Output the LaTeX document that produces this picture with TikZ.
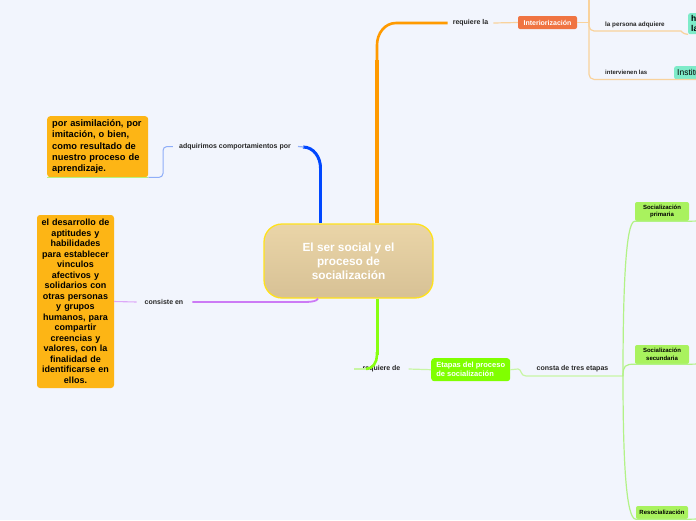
\documentclass[tikz,border=0pt]{standalone}
\usepackage{fontspec}
\setmainfont{Liberation Sans}
\definecolor{bg}{HTML}{F2F5FD}
\definecolor{orgline}{HTML}{FF9A00}
\definecolor{orglight}{HTML}{F9D29C}
\definecolor{bluel}{HTML}{0047FF}
\definecolor{bluelight}{HTML}{8FAEF8}
\definecolor{purp}{HTML}{CC7AF5}
\definecolor{purplight}{HTML}{DDA8F8}
\definecolor{grn}{HTML}{88FF11}
\definecolor{grnlight}{HTML}{C8F5A4}
\definecolor{grnmid}{HTML}{B2F286}
\definecolor{boxor}{HTML}{FDB515}
\definecolor{interior}{HTML}{F07442}
\definecolor{tealbox}{HTML}{7EEBC9}
\definecolor{etapcol}{HTML}{80FF00}
\definecolor{soccol}{HTML}{A9F25E}
\definecolor{centtop}{HTML}{EAD5A8}
\definecolor{centbot}{HTML}{D7C195}
\definecolor{centborder}{HTML}{FFE21C}
\definecolor{undergrn}{HTML}{B8F07E}
\tikzset{
  lbl/.style={font=\fontsize{7}{8}\selectfont\bfseries, text=black!85, inner sep=1pt},
  smalllbl/.style={font=\fontsize{6.3}{7}\selectfont\bfseries, text=black!85, inner sep=1pt},
  orbox/.style={fill=boxor, rounded corners=3pt, text=black, inner ysep=2pt,
     font=\fontsize{9.3}{11.3}\selectfont\bfseries},
  socbox/.style={fill=soccol, rounded corners=2pt, text=black, align=center, inner sep=1pt,
     font=\fontsize{6}{7.4}\selectfont\bfseries, minimum width=54pt},
  centralbox/.style={draw=centborder, line width=1.3pt, top color=centtop, bottom color=centbot,
     rounded corners=18pt, minimum width=169pt, minimum height=74pt, text=white, align=center,
     font=\fontsize{11.8}{14}\selectfont\bfseries},
}
\begin{document}
\begin{tikzpicture}[x=1pt,y=-1pt]
\fill[bg] (0,0) rectangle (696,520);
\useasboundingbox (0,0) rectangle (696,520);
\clip (0,0) rectangle (696,520);

% ---------- nodes ----------
\node[centralbox] (c) at (348.5,261) {El ser social y el\\proceso de\\socialización};

\node[lbl] (reqla) at (470.5,23) {requiere la};
\node[fill=interior, rounded corners=2pt, text=white, minimum width=59pt, minimum height=13pt,
      inner sep=1pt, font=\fontsize{7}{8}\selectfont\bfseries] (int) at (547.5,22.5) {Interiorización};
\coordinate (ij) at (589,22.5);
\coordinate (itop) at (589,-2);
\node[smalllbl, anchor=west] (pers) at (604,25) {la persona adquiere};
\node[fill=tealbox, rounded corners=2pt, anchor=north west, text width=20pt, minimum height=21pt,
      inner xsep=3pt, inner ysep=1pt, align=left, text=black, font=\fontsize{8.5}{9.5}\selectfont\bfseries] (h) at (688,13) {h\\la};
\node[smalllbl, anchor=west, font=\fontsize{6}{7}\selectfont\bfseries] (intv) at (604,72.5) {intervienen las};
\node[fill=tealbox, rounded corners=2pt, anchor=north west, minimum height=13pt, inner xsep=3pt, inner ysep=1pt,
      text=black, font=\fontsize{8.5}{9.5}\selectfont] (inst) at (674,66) {Institu};

\node[lbl] (adq) at (235,146.5) {adquirimos comportamientos por};
\node[orbox, anchor=north west, text width=91pt, inner xsep=5pt, minimum height=61pt, align=left] (asim) at (47,116)
  {por asimilación, por\\imitación, o bien,\\como resultado de\\nuestro proceso de\\aprendizaje.};

\node[lbl] (cons) at (164,302) {consiste en};
\node[orbox, text width=71pt, inner xsep=3pt, minimum height=173pt, align=center,
      font=\fontsize{9}{10.5}\selectfont\bfseries] (des) at (75.5,301.5)
  {el desarrollo de\\aptitudes y\\habilidades\\para establecer\\vinculos\\afectivos y\\solidarios con\\otras personas\\y grupos\\humanos, para\\compartir\\creencias y\\valores, con la\\finalidad de\\identificarse en\\ellos.};

\node[lbl] (reqde) at (381.5,369) {requiere de};
\node[fill=etapcol, rounded corners=3pt, anchor=north west, minimum width=79pt, minimum height=23pt,
      inner xsep=4pt, inner ysep=1pt, align=left, text=white, font=\fontsize{7.5}{9}\selectfont\bfseries] (etap) at (431,358)
  {Etapas del proceso\\de socialización};
\node[lbl] (consta) at (572.5,369) {consta de tres etapas};
\coordinate (jn) at (623,376);

\node[socbox, minimum height=19pt] (prim) at (662,211.5) {Socialización\\primaria};
\node[socbox, minimum height=19pt] (sec) at (662,354.5) {Socialización\\secundaria};
\node[socbox, minimum height=13pt, minimum width=52pt] (reso) at (662,512.5) {Resocialización};

% ---------- connectors ----------
% orange
\draw[orgline, line width=3.2pt] ([xshift=28.5pt]c.north) -- (377,60);
\draw[orgline, line width=2.6pt] (377,64) -- (377,45) to[out=90,in=180] (396,23) -- ([xshift=-4pt]reqla.west);
\draw[orglight, line width=1.2pt] ([xshift=4pt]reqla.east) -- (int.west);
\draw[orglight, line width=1.2pt] (int.east) -- (ij) -- (itop);
\draw[orglight, line width=1.2pt, rounded corners=5pt] (ij) |- (676,31) .. controls (682,31) and (682,34) .. (h.south west);
\draw[orglight, line width=1.2pt, rounded corners=5pt] (ij) |- (inst.south west) -- (inst.south east);

% blue
\draw[bluel, line width=3.8pt] ([xshift=-28pt]c.north) -- (320.5,166);
\draw[bluel, line width=3pt] (320.5,168) to[out=90,in=0] (303,147);
\draw[bluelight, line width=1.2pt] (304,147) -- ([xshift=6pt]adq.east);
\draw[bluelight, line width=1pt, rounded corners=4pt] ([xshift=-5pt]adq.west) -- (163,146.5) |- (asim.south east);
\draw[undergrn, line width=1.3pt] (asim.south west) -- (asim.south east);

% purple
\draw[purp, line width=1.8pt] ([xshift=-30.5pt]c.south) .. controls (317,301) and (312,302) .. (305,302) -- ([xshift=8pt]cons.east);
\draw[purplight, line width=1.1pt] ([xshift=-7pt]cons.west) -- (des.east);

% green
\draw[grn, line width=3pt] ([xshift=28.5pt]c.south) -- (377,355);
\draw[grn, line width=2.6pt] (377,352) -- (377,355) to[out=-90,in=0] (366,369);
\draw[grnlight, line width=1.2pt] (366,369) -- ([xshift=-7pt]reqde.west);
\draw[grnlight, line width=1.2pt] ([xshift=7pt]reqde.east) -- (etap.west);
\draw[grnlight, line width=1.2pt] (etap.east) -- (518,369) .. controls (522,369) and (520,376) .. (526,376) -- (jn);
\draw[grnmid, line width=1.2pt] (jn) .. controls (623,300) and (625,221) .. (prim.south west) -- (prim.south east) -- (700,221);
\draw[grnmid, line width=1.2pt] (jn) .. controls (623,366) and (625,364) .. (sec.south west) -- (sec.south east) -- (700,364);
\draw[grnmid, line width=1.2pt] (jn) .. controls (623,460) and (626,519) .. (reso.south west) -- (reso.south east) -- (700,519);
\end{tikzpicture}
\end{document}
